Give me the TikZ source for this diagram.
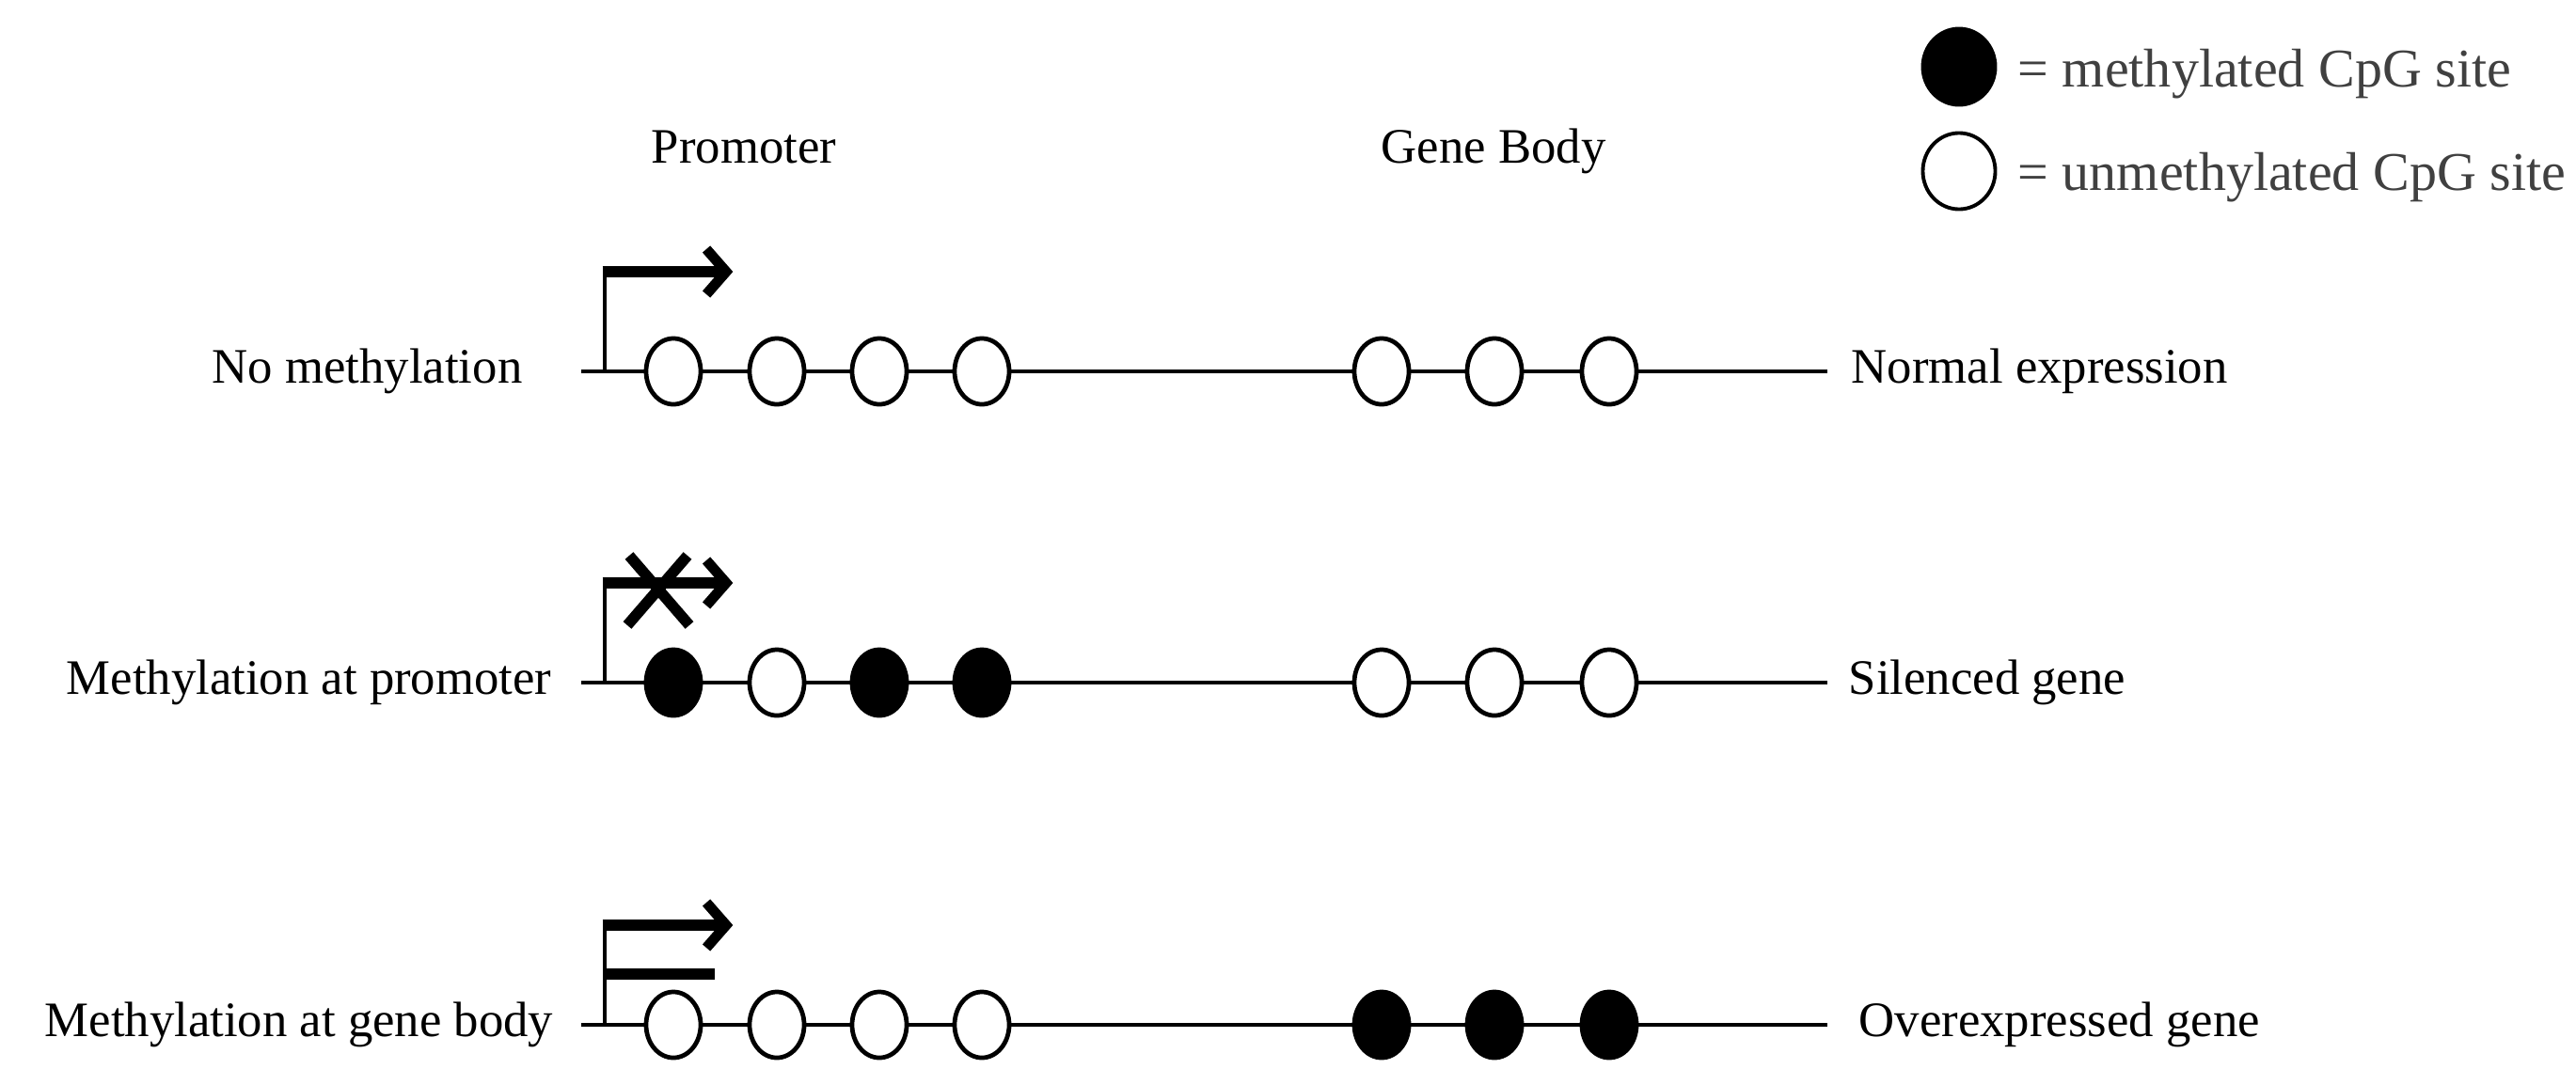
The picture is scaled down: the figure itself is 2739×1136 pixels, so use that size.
\documentclass[tikz,border=0pt]{standalone}
\usepackage{fontspec}
\setmainfont{Liberation Serif}
\usetikzlibrary{shapes.geometric}

\begin{document}
\begin{tikzpicture}[x=0.01cm,y=-0.01cm,
  dna/.style={line width=1.2pt},
  cpg/.style={ellipse, draw, line width=1.35pt, minimum width=0.58cm,
    minimum height=0.70cm, inner sep=0pt},
  keycpg/.style={ellipse, draw, line width=1.1pt, minimum width=0.77cm,
    minimum height=0.81cm, inner sep=0pt},
  tssbar/.style={line width=1.4pt},
  shaft/.style={line width=3.4pt},
  barb/.style={line width=3.1pt, line join=miter},
  lab/.style={font=\fontsize{15}{18}\selectfont, inner sep=0pt},
  keylab/.style={font=\fontsize{16.5}{20}\selectfont, inner sep=0pt, text=black!75, anchor=base west}
]
\useasboundingbox (0,0) rectangle (2739,1136);

% column headings
\node[lab, anchor=base] (promoter) at (791,173) {Promoter};
\node[lab, anchor=base] (genebody) at (1588,173) {Gene Body};

% key
\node[keycpg, fill=black] (keyfull) at (2083,71) {};
\node[keylab] (keyfulltxt) at (2145,92) {= methylated CpG site};
\node[keycpg, fill=white] (keyempty) at (2083,182) {};
\node[keylab] (keyemptytxt) at (2145,202) {= unmethylated CpG site};

% three gene rows: y position, promoter CpG fills, gene body CpG fills
\foreach \r/\yy/\pa/\pb/\pc/\pd/\gf in
  {1/395/white/white/white/white/white,
   2/726/black/white/black/black/white,
   3/1090/white/white/white/white/black} {
  \coordinate (r\r start) at (618,\yy);
  \coordinate (r\r end) at (1943,\yy);
  \node[cpg, fill=\pa] (r\r p1) at (716,\yy) {};
  \node[cpg, fill=\pb] (r\r p2) at (826,\yy) {};
  \node[cpg, fill=\pc] (r\r p3) at (935,\yy) {};
  \node[cpg, fill=\pd] (r\r p4) at (1044,\yy) {};
  \node[cpg, fill=\gf] (r\r g1) at (1469,\yy) {};
  \node[cpg, fill=\gf] (r\r g2) at (1589,\yy) {};
  \node[cpg, fill=\gf] (r\r g3) at (1711,\yy) {};
  \draw[dna] (r\r start) -- (r\r p1) -- (r\r p2) -- (r\r p3) -- (r\r p4)
    -- (r\r g1) -- (r\r g2) -- (r\r g3) -- (r\r end);
  % transcription start site
  \coordinate (r\r tss) at (643,\yy);
  \coordinate (r\r tsstop) at (643,\yy-106);
  \draw[tssbar] (r\r tss) -- ([yshift=0.06cm]r\r tsstop);
  \draw[shaft] ([xshift=-0.025cm]r\r tsstop) -- ([xshift=1.25cm]r\r tsstop);
  \draw[barb] ([xshift=1.08cm,yshift=0.24cm]r\r tsstop) -- ([xshift=1.29cm]r\r tsstop)
    -- ([xshift=1.08cm,yshift=-0.24cm]r\r tsstop);
}

% blocked transcription
\draw[line width=3.3pt] (669,591) -- (733,665);
\draw[line width=3.3pt] (731,591) -- (667,665);

% transcription reduced at the gene body row
\draw[shaft] (641,1036) -- (760,1036);

% row labels
\node[lab, anchor=base west] (lab1) at (225,407) {No methylation};
\node[lab, anchor=base west] (lab2) at (70,738) {Methylation at promoter};
\node[lab, anchor=base west] (lab3) at (47,1102) {Methylation at gene body};

\node[lab, anchor=base west] (out1) at (1968,407) {Normal expression};
\node[lab, anchor=base west] (out2) at (1965,738) {Silenced gene};
\node[lab, anchor=base west] (out3) at (1976,1102) {Overexpressed gene};
\end{tikzpicture}
\end{document}
